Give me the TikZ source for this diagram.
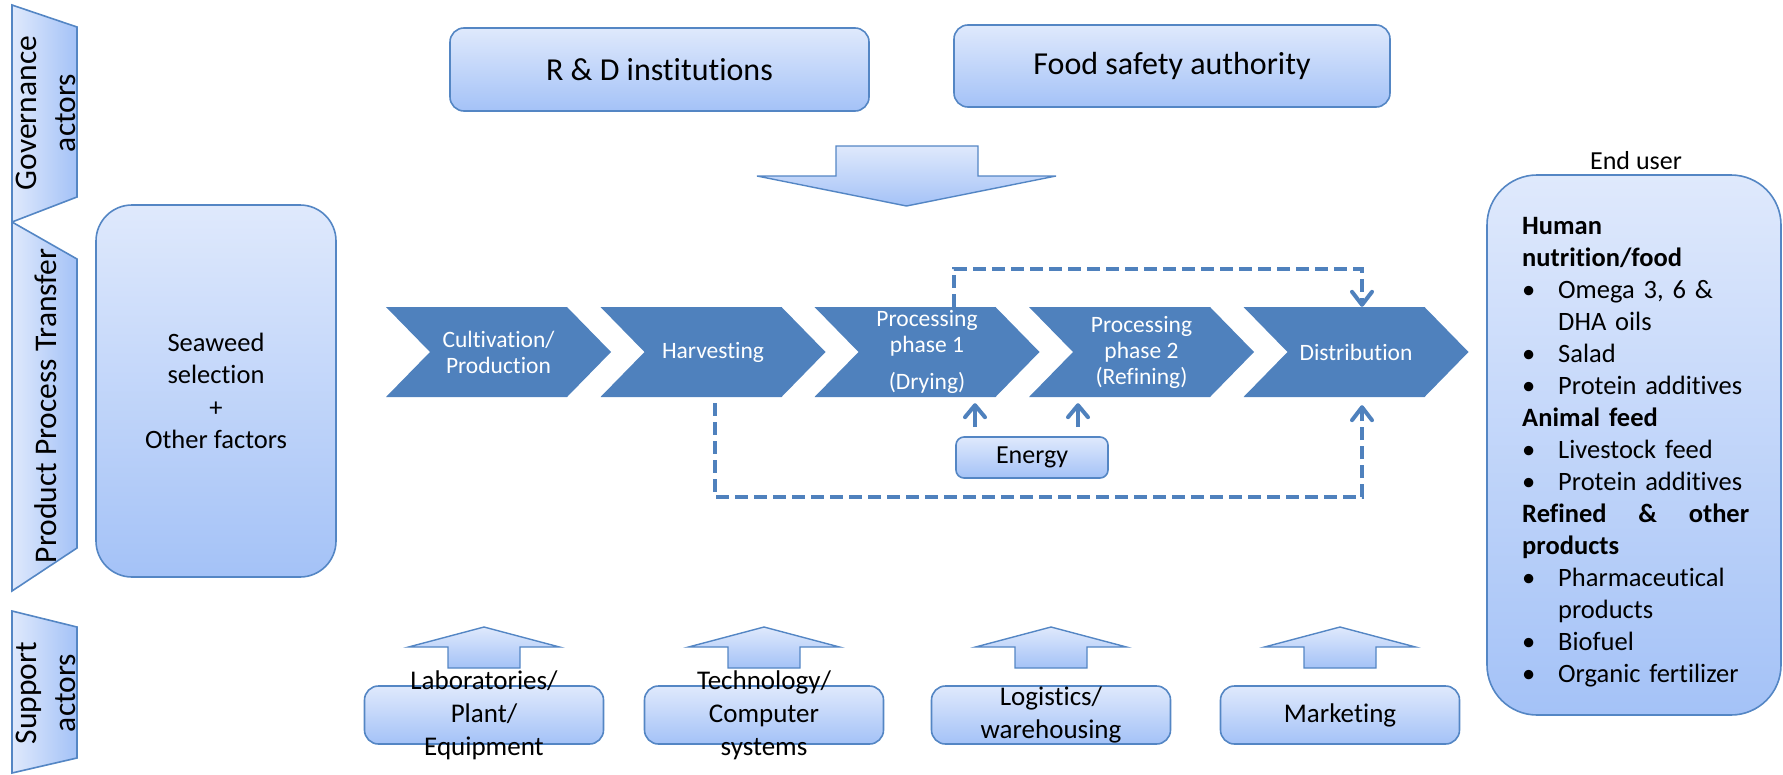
\documentclass[tikz,border=0pt]{standalone}
\usepackage{fontspec}
\setmainfont{Carlito}[Ligatures=NoCommon]
\usetikzlibrary{arrows.meta,shapes.symbols}

\definecolor{chevblue}{RGB}{79,129,189}
\definecolor{edgeblue}{RGB}{84,134,196}
\definecolor{filltop}{RGB}{223,233,252}
\definecolor{fillbot}{RGB}{164,194,247}

\newcommand{\bul}{\makebox[36pt][l]{\textbullet}}
\newcommand{\ind}{\hspace*{36pt}}

\begin{document}
\begin{tikzpicture}[x=1pt,y=-1pt,
    lightbox/.style={draw=edgeblue, line width=1.6pt, top color=filltop, bottom color=fillbot,
                     rounded corners=#1, inner sep=0pt, align=center},
    lightbox/.default=14pt,
    chevron/.style={shape=signal, signal from=west, signal to=east, signal pointer angle=91.3,
                    fill=chevblue, minimum width=225pt, minimum height=90pt, inner sep=0pt,
                    text=white, align=center, font=\fontsize{23.5}{26}\selectfont},
    sidebar/.style={draw=edgeblue, line width=1.6pt, left color=filltop, right color=fillbot},
    sidetext/.style={rotate=90, align=center, inner sep=0pt, font=\fontsize{31.5}{39}\selectfont},
    blockarrow/.style={draw=edgeblue, line width=1.4pt, top color=filltop, bottom color=fillbot},
    dashflow/.style={draw=chevblue, line width=4pt, dash pattern=on 13pt off 6pt,
                     -{Straight Barb[length=13pt,width=20pt,round]}},
    flowarr/.style={draw=chevblue, line width=4pt, -{Straight Barb[length=12pt,width=20pt,round]}}]
    \useasboundingbox (0,0) rectangle (1783,774);

    % actor bars on the left
    \draw[sidebar] (12,5) -- (77,27) -- (77,197) -- (12,222) -- cycle;
    \draw[sidebar] (12,222) -- (77,259) -- (77,548) -- (12,591) -- cycle;
    \draw[sidebar] (12,611) -- (77,627) -- (77,758) -- (12,773) -- cycle;
    \node[sidetext] (gov) at (46,113) {Governance\\actors};
    \node[sidetext] (ppt) at (46,406) {Product Process Transfer};
    \node[sidetext] (sup) at (46,693) {Support\\actors};

    \node[lightbox=36pt, minimum width=240pt, minimum height=372pt,
          font=\fontsize{26.5}{32.5}\selectfont] (seaweed) at (216,391)
          {Seaweed\\selection\\+\\Other factors};

    % governance actors
    \node[lightbox, minimum width=419pt, minimum height=83pt,
          font=\fontsize{32}{39}\selectfont] (rnd) at (659.5,69.5) {R \& D institutions};
    \node[lightbox, minimum width=436pt, minimum height=82pt,
          font=\fontsize{32}{39}\selectfont] (fsa) at (1172,66) {Food safety authority};
    \draw[blockarrow] (836,146) -- (978,146) -- (978,176) -- (1056,176)
        -- (906.5,206) -- (757,176) -- (836,176) -- cycle;

    % the chain
    \node[chevron] (cult) at (498.5,352) {Cultivation/\\Production};
    \node[chevron] (harv) at (713,352) {Harvesting};
    \node[chevron] (dry)  at (927,352) {Processing\\phase 1\\[11pt](Drying)};
    \node[chevron] (refi) at (1141.5,352) {Processing\\phase 2\\(Refining)};
    \node[chevron] (dist) at (1356,352) {Distribution};

    \node[lightbox=8pt, minimum width=152pt, minimum height=41pt,
          font=\fontsize{26}{30}\selectfont] (energy) at (1032,457.5) {Energy};
    \draw[flowarr] ([xshift=-57pt,yshift=9pt]energy.north) -- ++(0,-24);
    \draw[flowarr] ([xshift=46pt,yshift=9pt]energy.north) -- ++(0,-24);

    \draw[dashflow] ([xshift=27pt]dry.north) -- ++(0,-38) -| ([xshift=6pt]dist.north);
    \draw[dashflow] ([xshift=2pt,yshift=-6pt]harv.south) -- ++(0,94)
        -| ([xshift=6pt,yshift=-8pt]dist.south);

    % support actors
    \foreach \nm/\cx/\txt in {lab/484/{Laboratories/\\Plant/\\Equipment},
                              tech/764/{Technology/\\Computer\\systems},
                              logi/1051/{Logistics/\\warehousing},
                              mark/1340/{Marketing}}{
      \draw[blockarrow] (\cx-36,668) -- (\cx-36,647) -- (\cx-75.5,647) -- (\cx,627)
          -- (\cx+75.5,647) -- (\cx+36,647) -- (\cx+36,668) -- cycle;
      \node[lightbox, minimum width=239pt, minimum height=58pt] (\nm) at (\cx,715) {};
      \node[align=center, inner sep=0pt, font=\fontsize{27}{33}\selectfont] (\nm-t) at (\nm) {\txt};
    }

    % end user
    \node[font=\fontsize{26}{31}\selectfont, inner sep=0pt] (endlbl) at (1636,161) {End user};
    \node[lightbox=50pt, minimum width=294pt, minimum height=540pt] (enduser) at (1634,445) {};
    \node[anchor=base west, text width=227pt, align=left, inner sep=0pt,
          font=\fontsize{26.5}{32}\selectfont] (uses) at (1522,234) {%
      \textbf{Human}\\
      \textbf{nutrition/food}\\
      \bul Omega 3, 6 \&\\
      \ind DHA oils\\
      \bul Salad\\
      \bul Protein additives\\
      \textbf{Animal feed}\\
      \bul Livestock feed\\
      \bul Protein additives\\
      \makebox[227pt][s]{\bfseries Refined\hfill\&\hfill other}\\
      \textbf{products}\\
      \bul Pharmaceutical\\
      \ind products\\
      \bul Biofuel\\
      \bul Organic fertilizer};
\end{tikzpicture}
\end{document}
